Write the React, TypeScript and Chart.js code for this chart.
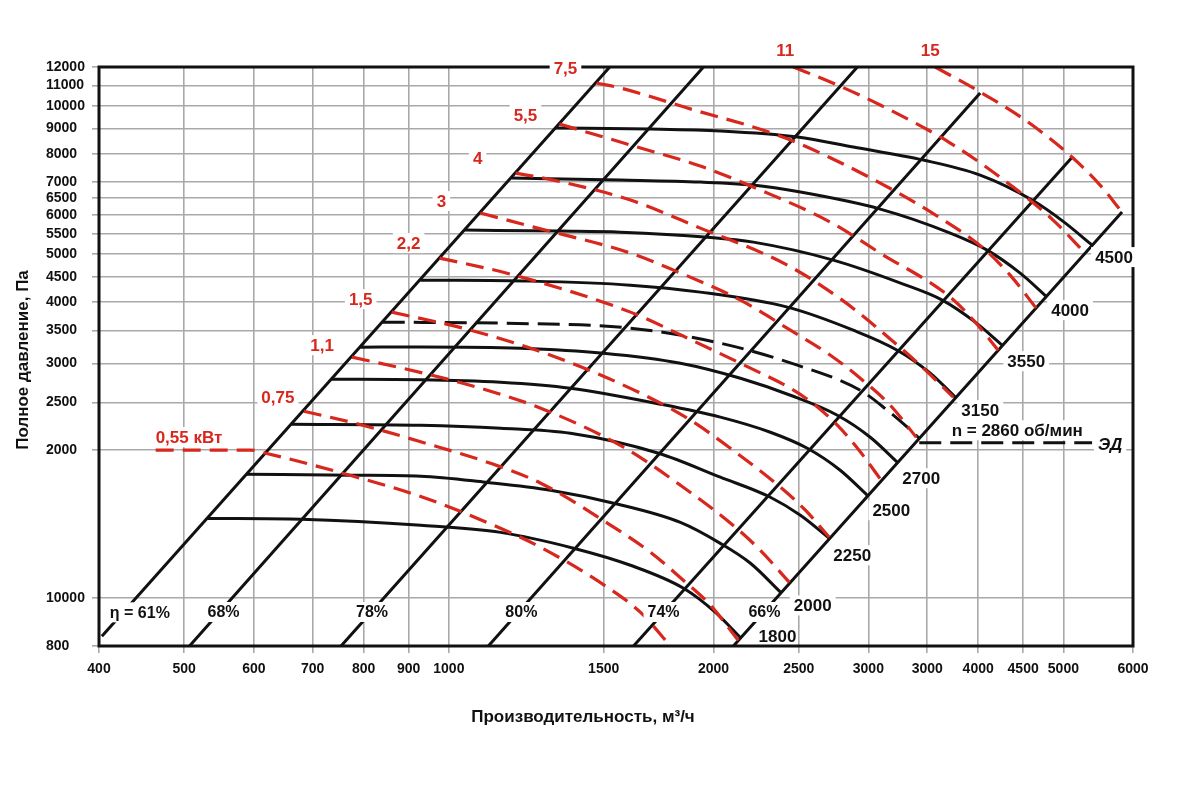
import { useEffect, useRef } from 'react';
import { Chart, registerables } from 'chart.js';

Chart.register(...registerables);

type Pt = [number, number];

// axis ticks, labels exactly as printed on the original sheet
const xTickValues = [400, 500, 600, 700, 800, 900, 1000, 1500, 2000, 2500, 3000, 3500, 4000, 4500, 5000, 6000];
const xTickLabels = ['400', '500', '600', '700', '800', '900', '1000', '1500', '2000', '2500', '3000', '3000', '4000', '4500', '5000', '6000'];
const yTickValues = [800, 1000, 2000, 2500, 3000, 3500, 4000, 4500, 5000, 5500, 6000, 6500, 7000, 8000, 9000, 10000, 11000, 12000];
const yTickLabels = ['800', '10000', '2000', '2500', '3000', '3500', '4000', '4500', '5000', '5500', '6000', '6500', '7000', '8000', '9000', '10000', '11000', '12000'];

// efficiency rays (Q, P)
const eta61: Pt[] = [[403, 837], [1524, 12000]];
const eta68: Pt[] = [[507, 800], [1948, 12000]];
const eta78: Pt[] = [[754, 800], [2915, 12000]];
const eta80: Pt[] = [[1109, 800], [4021, 10625]];
const eta74: Pt[] = [[1622, 800], [5116, 7870]];
const eta66: Pt[] = [[2107, 800], [5830, 6088]];

// fan curves per speed, об/мин
const rpm1800: Pt[] = [[531, 1453], [679, 1447], [929, 1407], [1145, 1361], [1386, 1264], [1609, 1167], [1849, 1048], [2010, 936], [2146, 832]];
const rpm2000: Pt[] = [[589, 1787], [774, 1778], [929, 1770], [1101, 1721], [1305, 1658], [1540, 1560], [1834, 1426], [2036, 1293], [2203, 1178], [2385, 1028]];
const rpm2250: Pt[] = [[662, 2257], [929, 2247], [1145, 2216], [1375, 2164], [1732, 1971], [2036, 1762], [2321, 1604], [2511, 1474], [2708, 1324]];
const rpm2500: Pt[] = [[736, 2786], [929, 2780], [1145, 2747], [1375, 2671], [1741, 2479], [2036, 2333], [2321, 2174], [2557, 2017], [2787, 1820], [2992, 1619]];
const rpm2700: Pt[] = [[793, 3236], [929, 3240], [1206, 3221], [1499, 3147], [1834, 3003], [2146, 2799], [2446, 2585], [2766, 2354], [3015, 2124], [3236, 1890]];
const rpm2860: Pt[] = [[841, 3638], [1145, 3621], [1609, 3537], [2036, 3297], [2491, 2975], [2937, 2646], [3152, 2410], [3322, 2226], [3428, 2114]];
const rpm3150: Pt[] = [[928, 4428], [1238, 4408], [1609, 4326], [1932, 4187], [2427, 3903], [2884, 3504], [3236, 3191], [3528, 2866], [3767, 2562]];
const rpm3550: Pt[] = [[1042, 5596], [1340, 5570], [1568, 5543], [1968, 5415], [2220, 5290], [2737, 4863], [3287, 4347], [3641, 4033], [3969, 3638], [4260, 3267]];
const rpm4000: Pt[] = [[1178, 7137], [1568, 7071], [1932, 7005], [2215, 6908], [2511, 6685], [3095, 6174], [3718, 5518], [4095, 5096], [4465, 4576], [4779, 4109]];
const rpm4500: Pt[] = [[1322, 9020], [1696, 8978], [2036, 8895], [2491, 8648], [2884, 8253], [3464, 7766], [4021, 7238], [4607, 6440], [5009, 5809], [5390, 5217]];

// ЭД line
const motorLine: Pt[] = [[3428, 2070], [5390, 2070]];

// shaft power, кВт
const kw0_55: Pt[] = [[464, 2000], [595, 2000], [619, 1971], [757, 1795], [941, 1597], [1124, 1407], [1272, 1269], [1516, 1052], [1652, 936], [1787, 800]];
const kw0_75: Pt[] = [[684, 2399], [798, 2247], [941, 2065], [1106, 1890], [1272, 1713], [1516, 1420], [1696, 1240], [1849, 1087], [1984, 968], [2134, 821]];
const kw1_1: Pt[] = [[776, 3089], [936, 2866], [1086, 2671], [1272, 2433], [1580, 2027], [1834, 1697], [2118, 1394], [2261, 1251], [2440, 1077]];
const kw1_5: Pt[] = [[861, 3813], [1059, 3504], [1315, 3103], [1652, 2610], [1883, 2300], [2090, 2017], [2383, 1681], [2544, 1510], [2708, 1330]];
const kw2_2: Pt[] = [[976, 4909], [1175, 4555], [1609, 3813], [1868, 3376], [2203, 2934], [2446, 2671], [2611, 2467], [2766, 2247], [2922, 2008], [3103, 1737]];
const kw3: Pt[] = [[1086, 6060], [1249, 5675], [1609, 5025], [1801, 4641], [2146, 4033], [2446, 3504], [2716, 3117], [2937, 2799], [3177, 2467], [3401, 2124]];
const kw4: Pt[] = [[1191, 7306], [1315, 7071], [1609, 6440], [1932, 5648], [2414, 4773], [2802, 4033], [3219, 3297], [3464, 2934], [3747, 2562]];
const kw5_5: Pt[] = [[1336, 9190], [1609, 8330], [1932, 7550], [2261, 6748], [2716, 5809], [3095, 5025], [3718, 4090], [3969, 3638], [4215, 3191]];
const kw7_5: Pt[] = [[1472, 11135], [1568, 10876], [1868, 9905], [2414, 8608], [3095, 6973], [3622, 5919], [4053, 5144], [4349, 4533], [4656, 3885]];
const kw11: Pt[] = [[2465, 12000], [2716, 11188], [3095, 10045], [3718, 8409], [4384, 6844], [4867, 5864], [5292, 5025]];
const kw15: Pt[] = [[3574, 12000], [4021, 10675], [4523, 9364], [5116, 7870], [5504, 6908], [5830, 6088]];

const FONT = '"Liberation Sans", Arial, Helvetica, sans-serif';
const RED = '#d8271d';
const BLACK = '#111111';
const GRID = '#a9a9a9';

const first = (p: Pt[]) => p[0];
const last = (p: Pt[]) => p[p.length - 1];

const line = (pts: Pt[], color: string, dash: number[] = [], width = 3) => ({
  data: pts.map(([x, y]) => ({ x, y })),
  borderColor: color,
  borderWidth: width,
  borderDash: dash,
  pointRadius: 0,
  showLine: true,
  fill: false,
  cubicInterpolationMode: 'monotone' as const,
});

type Note = { text: string; at: Pt; dx: number; dy: number; color: string; font: string; align?: 'left' | 'center'; bg?: boolean };

const redFont = `bold 17px ${FONT}`;
const rpmFont = `bold 17px ${FONT}`;
const etaFont = `bold 16px ${FONT}`;

const notes: Note[] = [
  { text: '0,55 кВт', at: first(kw0_55), dx: 0, dy: -13, color: RED, font: redFont, align: 'left', bg: true },
  { text: '0,75', at: first(kw0_75), dx: -26, dy: -14, color: RED, font: redFont, bg: true },
  { text: '1,1', at: first(kw1_1), dx: -30, dy: -12, color: RED, font: redFont, bg: true },
  { text: '1,5', at: first(kw1_5), dx: -31, dy: -13, color: RED, font: redFont, bg: true },
  { text: '2,2', at: first(kw2_2), dx: -31, dy: -15, color: RED, font: redFont, bg: true },
  { text: '3', at: first(kw3), dx: -39, dy: -12, color: RED, font: redFont, bg: true },
  { text: '4', at: first(kw4), dx: -38, dy: -15, color: RED, font: redFont, bg: true },
  { text: '5,5', at: first(kw5_5), dx: -34, dy: -9, color: RED, font: redFont, bg: true },
  { text: '7,5', at: first(kw7_5), dx: -31, dy: -15, color: RED, font: redFont, bg: true },
  { text: '11', at: first(kw11), dx: -8, dy: -17, color: RED, font: redFont },
  { text: '15', at: first(kw15), dx: -5, dy: -17, color: RED, font: redFont },
  { text: '1800', at: last(rpm1800), dx: 37, dy: -1, color: BLACK, font: rpmFont },
  { text: '2000', at: last(rpm2000), dx: 32, dy: 13, color: BLACK, font: rpmFont, bg: true },
  { text: '2250', at: last(rpm2250), dx: 23, dy: 17, color: BLACK, font: rpmFont, bg: true },
  { text: '2500', at: last(rpm2500), dx: 24, dy: 15, color: BLACK, font: rpmFont, bg: true },
  { text: '2700', at: last(rpm2700), dx: 24, dy: 16, color: BLACK, font: rpmFont, bg: true },
  { text: '3150', at: last(rpm3150), dx: 25, dy: 13, color: BLACK, font: rpmFont, bg: true },
  { text: '3550', at: last(rpm3550), dx: 24, dy: 16, color: BLACK, font: rpmFont, bg: true },
  { text: '4000', at: last(rpm4000), dx: 24, dy: 14, color: BLACK, font: rpmFont, bg: true },
  { text: '4500', at: last(rpm4500), dx: 22, dy: 12, color: BLACK, font: rpmFont, bg: true },
  { text: 'n = 2860 об/мин', at: last(rpm2860), dx: 98, dy: -8, color: BLACK, font: rpmFont, bg: true },
  { text: 'ЭД', at: last(motorLine), dx: 18, dy: 2, color: BLACK, font: `italic bold 17px ${FONT}`, bg: true },
  { text: 'η = 61%', at: first(eta61), dx: 38, dy: -24, color: BLACK, font: etaFont, bg: true },
  { text: '68%', at: first(eta68), dx: 34, dy: -34, color: BLACK, font: etaFont, bg: true },
  { text: '78%', at: first(eta78), dx: 31, dy: -34, color: BLACK, font: etaFont, bg: true },
  { text: '80%', at: first(eta80), dx: 33, dy: -34, color: BLACK, font: etaFont, bg: true },
  { text: '74%', at: first(eta74), dx: 30, dy: -34, color: BLACK, font: etaFont, bg: true },
  { text: '66%', at: first(eta66), dx: 31, dy: -34, color: BLACK, font: etaFont, bg: true },
];

const overlay = {
  id: 'overlay',
  afterDatasetsDraw(chart: any) {
    const { ctx, chartArea: a, scales } = chart;
    ctx.save();
    ctx.strokeStyle = BLACK;
    ctx.lineWidth = 3;
    ctx.strokeRect(a.left, a.top, a.right - a.left, a.bottom - a.top);

    ctx.textBaseline = 'middle';
    ctx.textAlign = 'left';
    for (const n of notes) {
      const px = scales.x.getPixelForValue(n.at[0]) + n.dx;
      const py = scales.y.getPixelForValue(n.at[1]) + n.dy;
      ctx.font = n.font;
      const w = ctx.measureText(n.text).width;
      const left = n.align === 'left' ? px : px - w / 2;
      if (n.bg) {
        ctx.fillStyle = '#ffffff';
        ctx.fillRect(left - 4, py - 10, w + 8, 20);
      }
      ctx.fillStyle = n.color;
      ctx.fillText(n.text, left, py + 1);
    }

    // axis titles
    ctx.fillStyle = BLACK;
    ctx.font = `bold 17px ${FONT}`;
    ctx.textAlign = 'center';
    ctx.fillText('Производительность, м³/ч', 583, 717);
    ctx.translate(23, 360);
    ctx.rotate(-Math.PI / 2);
    ctx.fillText('Полное давление, Па', 0, 0);
    ctx.restore();
  },
};

const tickFont = { family: FONT, size: 14, weight: 'bold' as const };

export default function App() {
  const canvasRef = useRef<HTMLCanvasElement>(null);

  useEffect(() => {
    if (!canvasRef.current) return;
    const red = (p: Pt[]) => line(p, RED, [18, 9], 3.2);
    const chart = new Chart(canvasRef.current, {
      type: 'scatter',
      data: {
        datasets: [
          red(kw0_55), red(kw0_75), red(kw1_1), red(kw1_5), red(kw2_2), red(kw3),
          red(kw4), red(kw5_5), red(kw7_5), red(kw11), red(kw15),
          line(eta61, BLACK), line(eta68, BLACK), line(eta78, BLACK),
          line(eta80, BLACK), line(eta74, BLACK), line(eta66, BLACK),
          line(rpm1800, BLACK), line(rpm2000, BLACK), line(rpm2250, BLACK),
          line(rpm2500, BLACK), line(rpm2700, BLACK), line(rpm2860, BLACK, [22, 9]),
          line(rpm3150, BLACK), line(rpm3550, BLACK), line(rpm4000, BLACK),
          line(rpm4500, BLACK), line(motorLine, BLACK, [22, 9]),
        ] as any,
      },
      options: {
        animation: false,
        responsive: true,
        maintainAspectRatio: false,
        layout: { padding: { left: 46, top: 67, right: 67, bottom: 0 }, autoPadding: false },
        plugins: { legend: { display: false }, tooltip: { enabled: false } },
        scales: {
          x: {
            type: 'logarithmic',
            min: 400,
            max: 6000,
            afterBuildTicks: (s: any) => { s.ticks = xTickValues.map((value) => ({ value })); },
            afterFit: (s: any) => { s.height = 146; },
            grid: { color: GRID, lineWidth: 1.6, tickLength: 7 },
            border: { display: false },
            ticks: {
              autoSkip: false, maxRotation: 0, minRotation: 0, padding: 8,
              color: BLACK, font: tickFont,
              callback: (_v: any, i: number) => xTickLabels[i],
            },
          },
          y: {
            type: 'logarithmic',
            min: 800,
            max: 12000,
            afterBuildTicks: (s: any) => { s.ticks = yTickValues.map((value) => ({ value })); },
            afterFit: (s: any) => { s.width = 53; },
            grid: { color: GRID, lineWidth: 1.6, tickLength: 7 },
            border: { display: false },
            ticks: {
              autoSkip: false, crossAlign: 'far', padding: 4,
              color: BLACK, font: tickFont,
              callback: (_v: any, i: number) => yTickLabels[i],
            },
          },
        },
      },
      plugins: [overlay],
    });
    return () => chart.destroy();
  }, []);

  return (
    <div style={{ position: 'fixed', left: 0, top: 0, width: 1200, height: 792, background: '#fff' }}>
      <canvas ref={canvasRef} />
    </div>
  );
}
